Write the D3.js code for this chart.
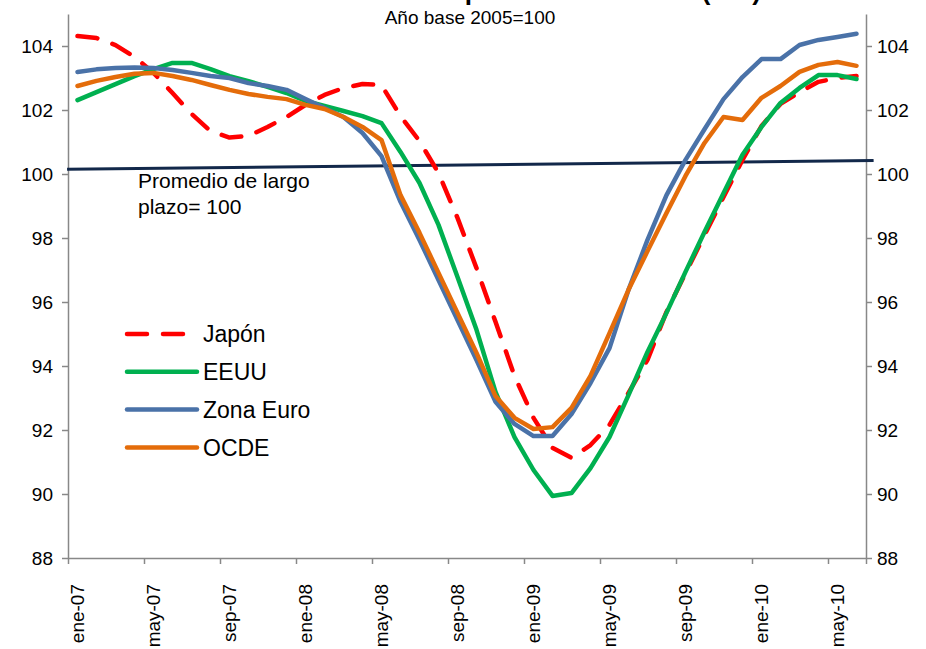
<!DOCTYPE html>
<html>
<head>
<meta charset="utf-8">
<script src="https://cdn.jsdelivr.net/npm/d3@7/dist/d3.min.js"></script>
<style>
  body { margin: 0; background: #fff; }
  svg { display: block; }
</style>
</head>
<body>
<div id="container"></div>
<script>
// months, ene-07 .. jun-10
const months = [
  "ene-07","feb-07","mar-07","abr-07","may-07","jun-07","jul-07","ago-07","sep-07","oct-07","nov-07","dic-07",
  "ene-08","feb-08","mar-08","abr-08","may-08","jun-08","jul-08","ago-08","sep-08","oct-08","nov-08","dic-08",
  "ene-09","feb-09","mar-09","abr-09","may-09","jun-09","jul-09","ago-09","sep-09","oct-09","nov-09","dic-09",
  "ene-10","feb-10","mar-10","abr-10","may-10","jun-10"
];
const monthTicks = ["ene-07","may-07","sep-07","ene-08","may-08","sep-08","ene-09","may-09","sep-09","ene-10","may-10"];
const yTicks = [88, 90, 92, 94, 96, 98, 100, 102, 104];

const japon = [104.31,104.25,104.03,103.66,103.16,102.53,101.88,101.34,101.14,101.19,101.47,101.78,
  102.16,102.47,102.69,102.81,102.78,101.81,101.03,100.03,98.63,97.06,95.38,93.69,
  92.38,91.44,91.13,91.53,92.16,93.16,94.19,95.69,96.9,98.09,99.28,100.44,
  101.5,102.19,102.56,102.88,103.0,103.06];
const eeuu = [102.31,102.56,102.81,103.06,103.28,103.47,103.47,103.28,103.06,102.9,102.72,102.53,
  102.28,102.13,101.97,101.81,101.59,100.69,99.72,98.41,96.78,95.13,93.19,91.78,
  90.75,89.94,90.03,90.81,91.78,93.09,94.44,95.66,96.94,98.19,99.4,100.6,
  101.47,102.22,102.69,103.09,103.09,102.97];
const zonaEuro = [103.19,103.27,103.31,103.33,103.31,103.25,103.16,103.06,103.0,102.84,102.75,102.63,
  102.34,102.06,101.78,101.28,100.56,99.13,97.94,96.69,95.44,94.19,92.88,92.19,
  91.81,91.81,92.5,93.47,94.56,96.38,97.94,99.34,100.44,101.4,102.34,103.03,
  103.59,103.59,104.03,104.19,104.28,104.38];
const ocde = [102.75,102.91,103.03,103.13,103.16,103.06,102.94,102.78,102.63,102.5,102.41,102.34,
  102.16,102.03,101.78,101.47,101.06,99.34,98.16,96.91,95.66,94.41,93.06,92.38,
  92.03,92.09,92.69,93.69,95.03,96.38,97.59,98.78,99.94,100.97,101.78,101.69,
  102.38,102.75,103.19,103.41,103.5,103.38];

// long-run average reference line (drawn slightly tilted in the original)
const promedio = [100.15, 100.42];

const series = [
  {name: "Japón", values: japon, color: "#ff0000", dash: "20,16"},
  {name: "EEUU", values: eeuu, color: "#00b050", dash: null},
  {name: "Zona Euro", values: zonaEuro, color: "#4a72a8", dash: null},
  {name: "OCDE", values: ocde, color: "#e46c0a", dash: null}
];

const width = 926, height = 649;
const marginLeft = 68, marginRight = 60, marginTop = 14, marginBottom = 91;
const axisColor = "#888888";

const x = d3.scaleBand()
    .domain(months)
    .range([marginLeft, width - marginRight])
    .padding(0);
const cx = d => x(d) + x.bandwidth() / 2;

const y = d3.scaleLinear()
    .domain([88, 105])
    .range([height - marginBottom, marginTop]);

const svg = d3.create("svg")
    .attr("width", width)
    .attr("height", height)
    .attr("viewBox", [0, 0, width, height])
    .style("font-family", "'Liberation Sans', Arial, sans-serif");

// title (sits above the visible area, as in the original)
svg.append("text")
    .attr("x", 524)
    .attr("y", 0)
    .attr("text-anchor", "middle")
    .attr("font-weight", "bold")
    .attr("font-size", 26)
    .text("Indicador compuesto adelantado (ICL)");

svg.append("text")
    .attr("x", 470)
    .attr("y", 24)
    .attr("text-anchor", "middle")
    .attr("font-size", 19)
    .style("font-family", "'Liberation Sans Narrow', 'Arial Narrow', sans-serif")
    .text("Año base 2005=100");

// left axis
const yLeft = svg.append("g")
    .attr("transform", `translate(${marginLeft},0)`)
    .call(d3.axisLeft(y).tickValues(yTicks).tickSize(6).tickPadding(9).tickSizeOuter(0));
// right axis
const yRight = svg.append("g")
    .attr("transform", `translate(${width - marginRight},0)`)
    .call(d3.axisRight(y).tickValues(yTicks).tickSize(6).tickPadding(5).tickSizeOuter(0));

[yLeft, yRight].forEach(g => {
  g.select(".domain").attr("stroke", axisColor).attr("stroke-width", 1.5);
  g.selectAll(".tick line").attr("stroke", axisColor).attr("stroke-width", 1.5);
  g.selectAll(".tick text")
      .attr("font-size", 19)
      .attr("fill", "#000")
      .style("font-family", "'Liberation Sans Narrow', 'Arial Narrow', sans-serif");
});

// bottom axis: tick marks at category boundaries, labels centred on category
const xEdge = d3.scaleLinear()
    .domain([0, months.length])
    .range([marginLeft, width - marginRight]);
const edgeTicks = monthTicks.map(m => months.indexOf(m)).concat([months.length]);

const xAxis = svg.append("g")
    .attr("transform", `translate(0,${height - marginBottom})`)
    .call(d3.axisBottom(xEdge).tickValues(edgeTicks).tickSize(6).tickFormat("").tickSizeOuter(0));
xAxis.select(".domain").attr("stroke", axisColor).attr("stroke-width", 1.5);
xAxis.selectAll(".tick line").attr("stroke", axisColor).attr("stroke-width", 1.5);

const xLabels = svg.append("g")
    .attr("transform", `translate(0,${height - marginBottom})`)
    .call(d3.axisBottom(x).tickValues(monthTicks).tickSize(0).tickPadding(0));
xLabels.select(".domain").remove();
xLabels.selectAll(".tick text")
    .attr("font-size", 19)
    .attr("fill", "#000")
    .attr("transform", "rotate(-90)")
    .attr("text-anchor", "end")
    .attr("dy", "0.35em")
    .attr("x", -26)
    .attr("y", 0);

// long-run average line
const xLin = d3.scaleLinear()
    .domain([-0.5, months.length - 0.5])
    .range([marginLeft, width - marginRight]);
svg.append("line")
    .attr("x1", xLin(-0.55)).attr("y1", y(promedio[0]))
    .attr("x2", xLin(months.length - 0.1)).attr("y2", y(promedio[1]))
    .attr("stroke", "#12284a")
    .attr("stroke-width", 3);

svg.append("text")
    .attr("x", 138)
    .attr("y", 188)
    .attr("font-size", 21)
    .selectAll("tspan")
    .data(["Promedio de largo", "plazo= 100"])
    .join("tspan")
    .attr("x", 138)
    .attr("dy", (d, i) => i ? 26 : 0)
    .text(d => d);

// series lines
const line = d3.line()
    .x((d, i) => cx(months[i]))
    .y(d => y(d));

svg.append("g")
  .selectAll("path")
  .data(series)
  .join("path")
    .attr("fill", "none")
    .attr("stroke", d => d.color)
    .attr("stroke-width", 4.5)
    .attr("stroke-linejoin", "round")
    .attr("stroke-linecap", "round")
    .attr("stroke-dasharray", d => d.dash)
    .attr("d", d => line(d.values));

// legend
const legend = svg.append("g")
    .selectAll("g")
    .data(series)
    .join("g")
    .attr("transform", (d, i) => `translate(127,${334 + i * 37.8})`);
legend.append("line")
    .attr("x1", 0).attr("x2", 70)
    .attr("stroke", d => d.color)
    .attr("stroke-width", 4.5)
    .attr("stroke-linecap", "round")
    .attr("stroke-dasharray", d => d.dash ? "20,16" : null);
legend.append("text")
    .attr("x", 76)
    .attr("dy", "0.36em")
    .attr("font-size", 23)
    .text(d => d.name);

document.getElementById("container").append(svg.node());
</script>
</body>
</html>
